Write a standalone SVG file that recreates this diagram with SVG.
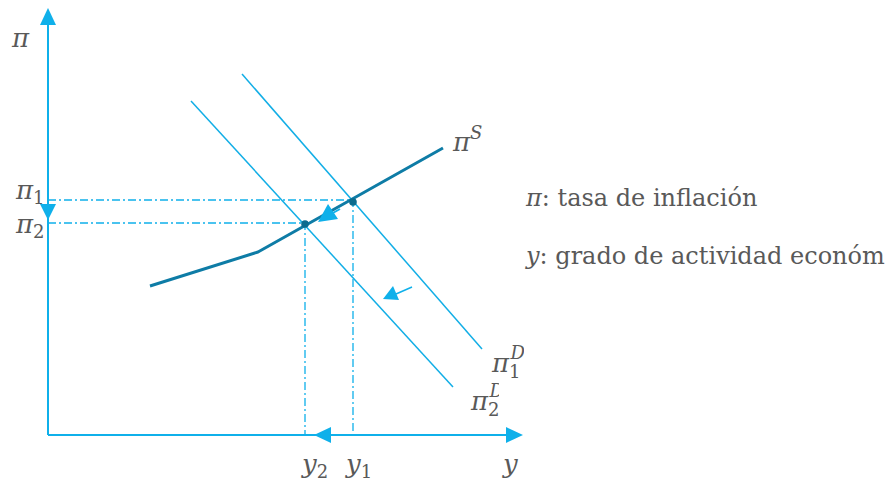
<svg xmlns="http://www.w3.org/2000/svg" width="890" height="487" viewBox="0 0 890 487">
<style>
.ax{stroke:#0fb0ea;stroke-width:2;fill:none}
.dd{stroke:#0fb0ea;stroke-width:1.3;fill:none;stroke-dasharray:8 3 2 3}
.dem{stroke:#12aee6;stroke-width:1.5;fill:none}
.sup{stroke:#0e7ca6;stroke-width:3;fill:none;stroke-linejoin:round}
.m{font-family:"DejaVu Serif","Liberation Serif",serif;font-style:italic;fill:#595959}
.t{font-family:"DejaVu Serif","Liberation Serif",serif;fill:#595959;font-size:24px}
</style>
<defs>
<clipPath id="c1"><rect x="480" y="330" width="44" height="60"/></clipPath>
<clipPath id="c2"><rect x="460" y="380" width="39" height="40"/></clipPath>
</defs>
<g id="connectors">
<path class="dd" d="M48,200 H353 V435"/>
<path class="dd" d="M48,223 H305 V435"/>
<line class="dem" x1="242" y1="74" x2="482" y2="349"/>
<line class="dem" x1="191" y1="101" x2="453" y2="387"/>
<polyline class="sup" points="150,286 258,252 443,148"/>
<circle cx="353" cy="202" r="3.8" fill="#0b6b8e"/>
<circle cx="305" cy="224" r="3.8" fill="#0b6b8e"/>
<line x1="48" y1="435" x2="48" y2="25" class="ax"/>
<path d="M40,25 L48,8 L56,25 z" fill="#0fb0ea"/>
<line x1="48" y1="435" x2="506" y2="435" class="ax"/>
<path d="M506,427 L523,435 L506,443 z" fill="#0fb0ea"/>
<path d="M40,204 L48,220 L56,204 z" fill="#0fb0ea"/>
<line x1="353" y1="435" x2="330" y2="435" class="ax"/>
<path d="M331,427 L314,435 L331,443 z" fill="#0fb0ea"/>
<line x1="340" y1="209" x2="332" y2="213.5" stroke="#0fb0ea" stroke-width="2"/>
<path d="M318,222 L328,204 L338,219 z" fill="#0fb0ea"/>
<line x1="412" y1="287" x2="396" y2="294" stroke="#0fb0ea" stroke-width="1.5"/>
<path d="M383,299 L393,286 L399,300 z" fill="#0fb0ea"/>
</g>
<g id="labels">
<text class="m" x="12" y="47" font-size="26">π</text>
<text class="m" x="16" y="199" font-size="26">π<tspan font-size="18" dy="5" font-style="normal">1</tspan></text>
<text class="m" x="16" y="233" font-size="26">π<tspan font-size="18" dy="5" font-style="normal">2</tspan></text>
<text class="m" x="453" y="151" font-size="26">π<tspan font-size="18" dy="-12">S</tspan></text>
<g clip-path="url(#c1)"><text class="m" x="492" y="372" font-size="26">π<tspan font-size="18" dy="6" font-style="normal">1</tspan><tspan font-size="18" dx="-10" dy="-19">D</tspan></text></g>
<g clip-path="url(#c2)"><text class="m" x="471" y="410" font-size="26">π<tspan font-size="18" dy="6" font-style="normal">2</tspan><tspan font-size="18" dx="-10" dy="-19">D</tspan></text></g>
<text class="m" x="302" y="473" font-size="26">y<tspan font-size="18" dy="5" font-style="normal">2</tspan></text>
<text class="m" x="346" y="473" font-size="26">y<tspan font-size="18" dy="5" font-style="normal">1</tspan></text>
<text class="m" x="503" y="473" font-size="26">y</text>
<text class="t" x="526" y="206"><tspan font-style="italic">π</tspan>: tasa de inflación</text>
<text class="t" x="526" y="264"><tspan font-style="italic">y</tspan>: grado de actividad económ</text>
</g>
</svg>
